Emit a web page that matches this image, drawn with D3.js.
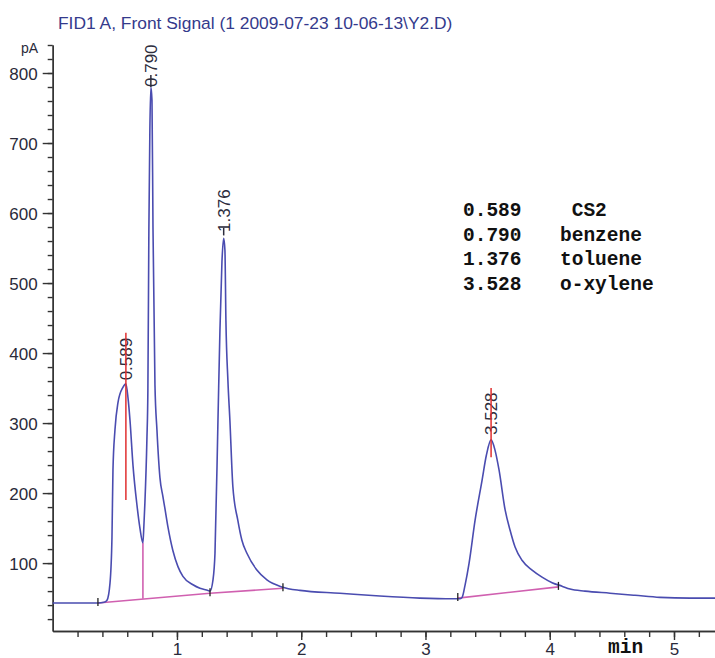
<!DOCTYPE html>
<html>
<head>
<meta charset="utf-8">
<script src="https://cdn.jsdelivr.net/npm/d3@7"></script>
<style>
  html, body { margin: 0; padding: 0; background: #fff; }
  svg { display: block; }
  .axis path, .axis line { stroke: #333; stroke-width: 1.4; }
  .axis text { font-family: "Liberation Sans", Arial, sans-serif; font-size: 17px; fill: #2a2a3a; }
  .mono { font-family: "Liberation Mono", "Courier New", monospace; font-weight: bold; font-size: 19.5px; fill: #111; white-space: pre; }
</style>
</head>
<body>
<svg id="chart" width="715" height="658"></svg>
<script>
// ---- data ----
const titleText = "FID1 A, Front Signal (1 2009-07-23 10-06-13\\Y2.D)";
const yUnit = "pA";
const xUnit = "min";

// chromatogram trace: time (min) and signal (pA)
const signalTime = [0, 0.139, 0.300, 0.364, 0.413, 0.437, 0.461, 0.477, 0.485, 0.501, 0.525, 0.565, 0.589,
  0.606, 0.622, 0.646, 0.678, 0.702, 0.726, 0.734, 0.742, 0.758, 0.766, 0.774, 0.782, 0.790, 0.799, 0.807,
  0.823, 0.839, 0.863, 0.887, 0.903, 0.927, 0.967, 1.008, 1.048, 1.129, 1.185, 1.250, 1.266, 1.290, 1.306,
  1.330, 1.346, 1.362, 1.376, 1.386, 1.394, 1.410, 1.426, 1.450, 1.490, 1.522, 1.563, 1.643, 1.724, 1.844,
  1.989, 2.311, 2.633, 2.955, 3.220, 3.261, 3.279, 3.295, 3.319, 3.351, 3.399, 3.456, 3.490, 3.528, 3.560,
  3.592, 3.641, 3.681, 3.721, 3.777, 3.858, 3.938, 4.019, 4.099, 4.164, 4.284, 4.485, 4.686, 4.887, 5.128, 5.33];
const signalPA = [43, 43, 43, 43, 44, 47, 71, 137, 233, 290, 329, 351, 356,
  336, 304, 240, 183, 150, 129, 154, 186, 276, 347, 576, 719, 780, 761, 580,
  354, 290, 222, 195, 178, 152, 118, 95, 81, 69, 64, 61, 60, 76, 114,
  304, 433, 530, 564, 547, 447, 361, 304, 209, 161, 133, 114, 90, 76, 66,
  61, 57, 53, 50, 49, 49, 49, 51, 69, 100, 161, 219, 254, 276, 261,
  233, 176, 147, 123, 104, 90, 80, 72, 67, 63, 60, 57, 54, 51, 50, 50];

// peaks
const peakTimes = [0.589, 0.790, 1.376, 3.528];
const peakLabels = ["0.589", "0.790", "1.376", "3.528"];
const compoundNames = [" CS2", "benzene", "toluene", "o-xylene"];
const markerTop = [429, 797, 579, 350];
const markerBottom = [190, 780, 568, 251];
const markerColor = ["#e03030", "#2c2c3c", "#2c2c3c", "#e03030"];
const labelBase = [361, 780, 573, 283];

// integration baselines
const baseStartT = [0.364, 1.266, 3.260];
const baseStartV = [43, 57, 50];
const baseEndT = [1.266, 1.853, 4.070];
const baseEndV = [57, 64, 66];
// perpendicular drop between co-eluting peaks
const dropT = [0.726];
const dropLow = [49];
const dropHigh = [129];
// baseline event ticks
const eventT = [0.364, 1.266, 1.853, 3.260, 4.070];
const eventV = [43, 57, 64, 50, 66];

// axis ticks
const yMajor = [100, 200, 300, 400, 500, 600, 700, 800];
const yMinor = d3.range(20, 841, 20);
const xMajor = [1, 2, 3, 4, 5];
const xMinor = d3.range(0.2, 5.31, 0.2);

// ---- drawing ----
const svg = d3.select("#chart");
const x = d3.scaleLinear().domain([0, 5.33]).range([52.7, 715]);
const y = d3.scaleLinear().domain([3, 840]).range([631, 45]);

svg.append("text").attr("x", 58).attr("y", 29)
  .attr("font-family", "Liberation Sans, Arial, sans-serif").attr("font-size", 17.4)
  .attr("fill", "#343a8c").text(titleText);

// y axis
svg.append("g").attr("class", "axis").attr("transform", `translate(${x(0)},0)`)
  .call(d3.axisLeft(y).tickValues(yMinor).tickSize(5).tickSizeOuter(0).tickFormat(""));
const ya = svg.append("g").attr("class", "axis").attr("transform", `translate(${x(0)},0)`)
  .call(d3.axisLeft(y).tickValues(yMajor).tickSize(10).tickPadding(5).tickSizeOuter(0).tickFormat(d3.format("d")));
ya.selectAll("text").attr("dy", "0.4em");
svg.append("text").attr("x", 38).attr("y", y(840) + 8).attr("text-anchor", "end")
  .attr("font-family", "Liberation Sans, Arial, sans-serif").attr("font-size", 14)
  .attr("fill", "#2a2a3a").text(yUnit);

// x axis
svg.append("g").attr("class", "axis").attr("transform", `translate(0,${y(3)})`)
  .call(d3.axisBottom(x).tickValues(xMinor).tickSize(6).tickSizeOuter(0).tickFormat(""));
svg.append("g").attr("class", "axis").attr("transform", `translate(0,${y(3)})`)
  .call(d3.axisBottom(x).tickValues(xMajor).tickSize(9).tickPadding(3).tickSizeOuter(0).tickFormat(d3.format("d")));
svg.append("text").attr("class", "mono").attr("x", 608).attr("y", 653).text(xUnit);

// integration baselines
const base = svg.append("g").attr("stroke", "#d060b0").attr("stroke-width", 1.6);
baseStartT.forEach((t, i) => {
  base.append("line").attr("x1", x(t)).attr("y1", y(baseStartV[i]))
    .attr("x2", x(baseEndT[i])).attr("y2", y(baseEndV[i]));
});
dropT.forEach((t, i) => {
  base.append("line").attr("x1", x(t)).attr("y1", y(dropLow[i]))
    .attr("x2", x(t)).attr("y2", y(dropHigh[i]));
});

// signal trace
const line = d3.line().x(d => x(d[0])).y(d => y(d[1])).curve(d3.curveMonotoneX);
svg.append("path").datum(signalTime.map((t, i) => [t, signalPA[i]]))
  .attr("fill", "none").attr("stroke", "#4a4cb0").attr("stroke-width", 1.6)
  .attr("stroke-linejoin", "round").attr("d", line);

// baseline event ticks
eventT.forEach((t, i) => {
  svg.append("line").attr("x1", x(t)).attr("x2", x(t))
    .attr("y1", y(eventV[i]) - 5).attr("y2", y(eventV[i]) + 3)
    .attr("stroke", "#222").attr("stroke-width", 1.3);
});

// retention time markers and labels
peakTimes.forEach((t, i) => {
  svg.append("text")
    .attr("transform", `translate(${x(t)},${y(labelBase[i])}) rotate(-90)`)
    .attr("dy", "0.36em")
    .attr("font-family", "Liberation Sans, Arial, sans-serif").attr("font-size", 17)
    .attr("fill", "#2c2c3c").text(peakLabels[i]);
  svg.append("line").attr("x1", x(t)).attr("x2", x(t))
    .attr("y1", y(markerTop[i])).attr("y2", y(markerBottom[i]))
    .attr("stroke", markerColor[i]).attr("stroke-width", 1.5);
});

// compound table
peakLabels.forEach((lab, i) => {
  svg.append("text").attr("class", "mono").attr("x", 463).attr("y", 216 + i * 24.5).text(lab);
  svg.append("text").attr("class", "mono").attr("x", 560).attr("y", 216 + i * 24.5).text(compoundNames[i]);
});
</script>
</body>
</html>
